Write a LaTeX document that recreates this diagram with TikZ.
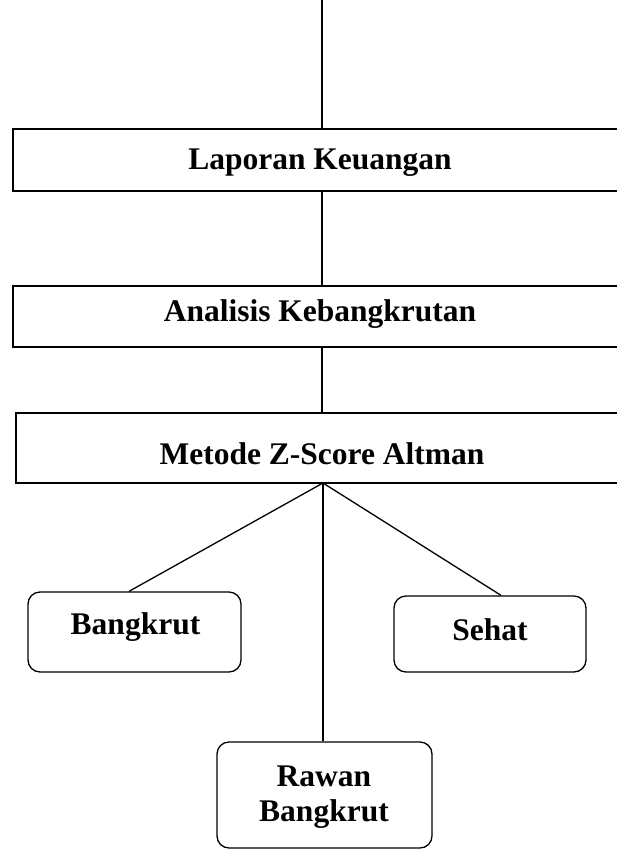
\documentclass[tikz,border=0pt]{standalone}
\usepackage{fontspec}
\setmainfont{Liberation Serif}
\usetikzlibrary{calc}
\usetikzlibrary{positioning}

\begin{document}
\begin{tikzpicture}[x=1pt,y=-1pt,line width=1.3pt]
			\tikzset{stage/.style={draw,rectangle,minimum width=648pt,inner sep=0pt}}
			\tikzset{outcome/.style={draw,rectangle,rounded corners=12pt,inner sep=0pt}}
			\tikzset{caption/.style={font=\fontsize{31.5}{35}\selectfont\bfseries,align=center,inner sep=0pt,anchor=base}}
			\useasboundingbox (0,0) rectangle (617,850);
			\clip (0,0) rectangle (617,850);
			% Place Nodes
			\coordinate (top) at (322,0);
			\node[stage,minimum height=62pt] (lap) at (337,160) {};
			\node[stage,minimum height=61pt] (ana) at (337,316.5) {};
			\node[stage,minimum height=70pt] (met) at (340,448) {};
			\node[outcome,minimum width=213pt,minimum height=80pt] (bang) at (134.5,632) {};
			\node[outcome,minimum width=192pt,minimum height=76pt] (seh) at (490,634) {};
			\node[outcome,minimum width=215pt,minimum height=106pt] (raw) at (324.5,795) {};
			\coordinate (fork) at (323,483);
			% Label nodes
			\node[caption] (lapt) at (320,170) {Laporan Keuangan};
			\node[caption] (anat) at (320,321) {Analisis Kebangkrutan};
			\node[caption] (mett) at (322,464) {Metode Z-Score Altman};
			\node[caption] (bangt) at (135.5,634) {Bangkrut};
			\node[caption] (seht) at (490,640) {Sehat};
			\node[caption,anchor=north] (rawt) at (324,765) {Rawan\\Bangkrut};
			% Draw connectors
			\draw (top) -- (lap.north -| top);
			\draw (lap.south -| top) -- (ana.north -| top);
			\draw (ana.south -| top) -- (met.north -| top);
			\draw (fork) -- (bang.north -| 129,0);
			\draw (fork) -- (seh.north -| 501,0);
			\draw (fork) -- (raw.north -| fork);
\end{tikzpicture}
\end{document}
